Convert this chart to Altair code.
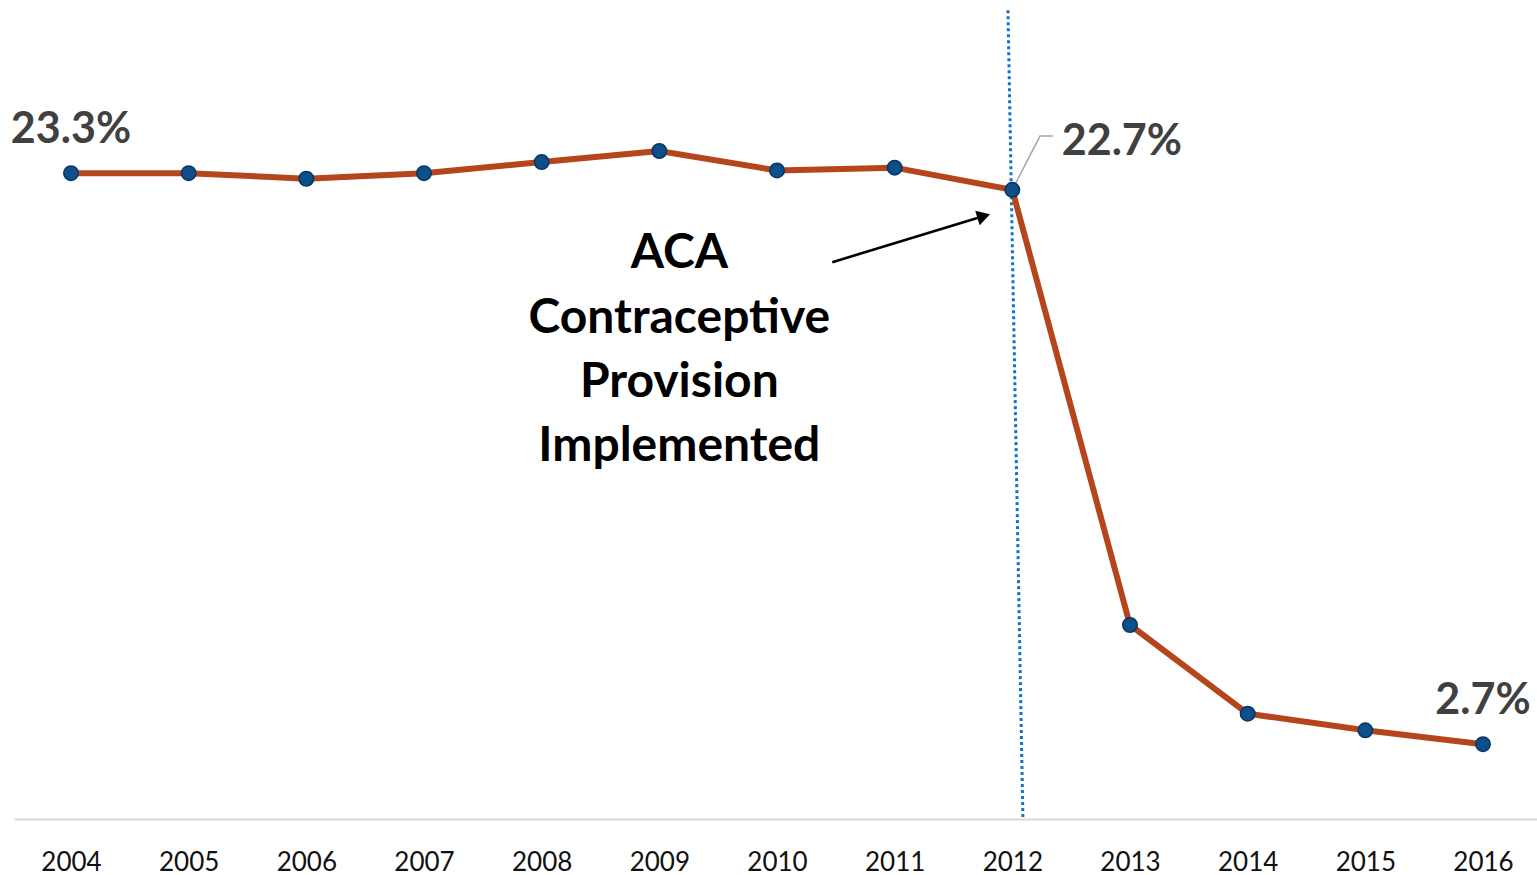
import altair as alt
import pandas as pd

# Share of women paying out of pocket for oral contraceptives, by year
years = [2004, 2005, 2006, 2007, 2008, 2009, 2010, 2011, 2012, 2013, 2014, 2015, 2016]
share = [23.3, 23.3, 23.1, 23.3, 23.7, 24.1, 23.4, 23.5, 22.7, 7.0, 3.8, 3.2, 2.7]

# Value labels centred over their points
center_text = ["23.3%", "2.7%"]
center_x = [2004, 2016]
center_y = [24.39, 3.79]

# Value label placed to the right of the 2012 point
side_text = ["22.7%"]
side_x = [2012.42]
side_y = [23.95]

# Annotation text lines
note_lines = ["ACA", "Contraceptive", "Provision", "Implemented"]
note_x = [2009.17, 2009.17, 2009.17, 2009.17]
note_y = [19.88, 17.55, 15.24, 12.93]

X_DOMAIN = [2003.5156, 2016.459]
Y_DOMAIN = [0, 29.26]

df = pd.DataFrame({"year": years, "share": share})
xs = alt.Scale(domain=X_DOMAIN, nice=False, zero=False)
ys = alt.Scale(domain=Y_DOMAIN, nice=False)
x_axis = alt.Axis(values=years, format="d", title=None, grid=False,
                  ticks=False, domainColor="#D9D9D9", domainWidth=2,
                  labelFontSize=26, labelColor="#111111", labelFont="Lato",
                  labelPadding=30, labelFlush=False)


def X(field):
    return alt.X(field, scale=xs, axis=x_axis)


def Y(field):
    return alt.Y(field, scale=ys, axis=None)


line = alt.Chart(df).mark_line(color="#B4451C", strokeWidth=6).encode(
    x=X("year:Q"), y=Y("share:Q"))

pts = alt.Chart(df).mark_point(filled=True, fill="#0D4F8B", stroke="#0A3460",
                               strokeWidth=1.5, size=210, opacity=1).encode(
    x=X("year:Q"), y=Y("share:Q"))

# Dotted reference line marking 2012
ref = alt.Chart(pd.DataFrame({"x": [2011.963, 2012.09], "y": [29.18, 0.0]})).mark_line(
    color="#0B74CC", strokeWidth=3, strokeDash=[3, 3]).encode(
    x=X("x:Q"), y=Y("y:Q"))

# Leader line for the 2012 label
lead = alt.Chart(pd.DataFrame({"x": [2012.0, 2012.235, 2012.345],
                               "y": [22.7, 24.64, 24.64]})).mark_line(
    color="#A6A6A6", strokeWidth=1.5).encode(
    x=X("x:Q"), y=Y("y:Q"))

labels = alt.Chart(pd.DataFrame({"t": center_text, "x": center_x, "y": center_y})).mark_text(
    font="Lato", fontWeight="bold", fontSize=43, color="#404040",
    align="center", baseline="alphabetic").encode(
    x=X("x:Q"), y=Y("y:Q"), text="t:N")

labels_side = alt.Chart(pd.DataFrame({"t": side_text, "x": side_x, "y": side_y})).mark_text(
    font="Lato", fontWeight="bold", fontSize=43, color="#404040",
    align="left", baseline="alphabetic").encode(
    x=X("x:Q"), y=Y("y:Q"), text="t:N")

note = alt.Chart(pd.DataFrame({"t": note_lines, "x": note_x, "y": note_y})).mark_text(
    font="Lato", fontWeight="bold", fontSize=48, color="#000000",
    align="center", baseline="alphabetic").encode(
    x=X("x:Q"), y=Y("y:Q"), text="t:N")

# Arrow pointing at the 2012 point
arrow_shaft = alt.Chart(pd.DataFrame({"x": [2010.47, 2011.71], "y": [20.09, 21.69]})).mark_line(
    color="#000000", strokeWidth=2.6).encode(
    x=X("x:Q"), y=Y("y:Q"))

arrow_head = alt.Chart(pd.DataFrame({"x": [2011.757], "y": [21.75]})).mark_point(
    shape="triangle-up", filled=True, color="#000000", size=230, angle=73,
    opacity=1).encode(
    x=X("x:Q"), y=Y("y:Q"))

chart = alt.layer(ref, line, lead, pts, labels, labels_side, note,
                  arrow_shaft, arrow_head).properties(
    width=1523, height=811,
    background="#FFFFFF",
    autosize=alt.AutoSizeParams(type="none"),
    padding={"left": 14, "top": 8, "right": 0, "bottom": 56},
).configure_view(strokeWidth=0)

chart.save("out.html", embed_options={"renderer": "svg", "actions": False})
